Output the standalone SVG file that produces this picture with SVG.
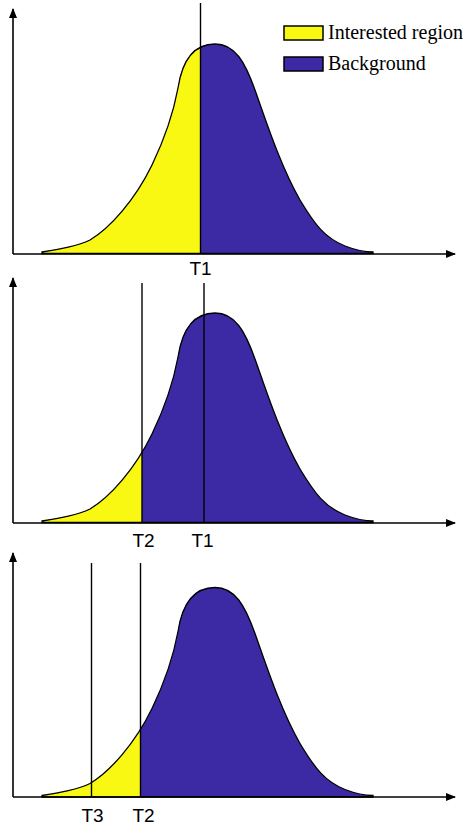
<svg xmlns="http://www.w3.org/2000/svg" width="468" height="825" viewBox="0 0 468 825">
<style>
.axis{stroke:#000;stroke-width:1.6;fill:none}
.thr{stroke:#000;stroke-width:1.4;fill:none}
.bg{fill:#3c29a4}
.ir{fill:#f8f812}
.outline{fill:none;stroke:#000;stroke-width:1.3}
.lbl{font-family:"Liberation Sans",Arial,sans-serif;font-size:19px;fill:#000;text-anchor:middle}
.leg{font-family:"Liberation Serif","Times New Roman",serif;font-size:20px;fill:#000}
.legbox{stroke:#000;stroke-width:1.5}
</style>
<defs>
<marker id="arr" viewBox="0 0 10 10" refX="9" refY="5" markerWidth="10" markerHeight="10" markerUnits="userSpaceOnUse" orient="auto">
<path d="M0,1 L10,5 L0,9 Z" fill="#000"/>
</marker>
<path id="curve" d="M42,252 C60,249 78,246 90,240 C110,228 135,200 152,165 C164,140 173,115 178,88 C182,62 192,44 215,44 C235,44 245,62 255,90 C265,118 280,165 300,200 C315,225 325,238 345,246 C358,251 366,252 373,252 L373,253.5 L42,253.5 Z"/>
<clipPath id="clip1"><rect x="0" y="0" width="200.5" height="300"/></clipPath>
<clipPath id="clip2"><rect x="0" y="0" width="142" height="300"/></clipPath>
<clipPath id="clip3"><rect x="0" y="0" width="140.5" height="300"/></clipPath>
</defs>

<g id="panel1">
<use href="#curve" class="bg"/>
<use href="#curve" class="ir" clip-path="url(#clip1)"/>
<use href="#curve" class="outline"/>
</g>
<g id="panel2" transform="translate(0,269)">
<use href="#curve" class="bg"/>
<use href="#curve" class="ir" clip-path="url(#clip2)"/>
<use href="#curve" class="outline"/>
</g>
<g id="panel3" transform="translate(0,543.5)">
<use href="#curve" class="bg"/>
<use href="#curve" class="ir" clip-path="url(#clip3)"/>
<use href="#curve" class="outline"/>
</g>

<g id="connectors">
<line class="axis" x1="13" y1="254" x2="13" y2="9" marker-end="url(#arr)"/>
<line class="axis" x1="13" y1="254" x2="455" y2="254" marker-end="url(#arr)"/>
<line class="axis" x1="13" y1="523" x2="13" y2="278" marker-end="url(#arr)"/>
<line class="axis" x1="13" y1="523" x2="455" y2="523" marker-end="url(#arr)"/>
<line class="axis" x1="13" y1="797" x2="13" y2="553" marker-end="url(#arr)"/>
<line class="axis" x1="13" y1="797" x2="455" y2="797" marker-end="url(#arr)"/>
<line class="thr" x1="200.5" y1="3" x2="200.5" y2="254"/>
<line class="thr" x1="142" y1="283" x2="142" y2="523"/>
<line class="thr" x1="204" y1="283" x2="204" y2="523"/>
<line class="thr" x1="91.5" y1="563" x2="91.5" y2="797"/>
<line class="thr" x1="140.5" y1="563" x2="140.5" y2="797"/>
</g>

<g id="labels">
<text class="lbl" x="200.5" y="275">T1</text>
<text class="lbl" x="143.5" y="547">T2</text>
<text class="lbl" x="202.5" y="547">T1</text>
<text class="lbl" x="92.5" y="822">T3</text>
<text class="lbl" x="143.5" y="822">T2</text>
</g>

<g id="legend">
<rect class="legbox" x="284" y="26" width="39" height="14" fill="#f8f812"/>
<text class="leg" x="328" y="39">Interested region</text>
<rect class="legbox" x="284" y="57" width="39" height="14" fill="#3c29a4"/>
<text class="leg" x="328" y="70">Background</text>
</g>
</svg>
